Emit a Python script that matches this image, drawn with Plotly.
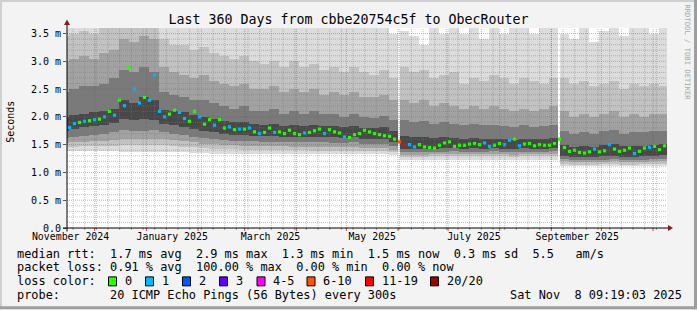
import pandas as pd
import plotly.graph_objects as go

# ------------------------------------------------------------------ data
X_START = "2024-11-14 09:00"
X_END = "2025-11-09 09:00"
Y_TOP = 3.6  # ms

# median rtt (ms), one value per 3 days, and lost pings (out of 20)
median_time = pd.date_range("2024-11-15 21:00", periods=120, freq="3D")
median_ms = [
    1.81, 1.88, 1.90, 1.92, 1.93, 1.95, 1.96, 2.00, 2.10, 2.03,
    2.30, 2.20, 2.90, 2.50, 2.25, 2.35, 2.30, 2.75, 2.10, 2.00,
    2.05, 2.12, 2.08, 1.97, 1.92, 2.10, 2.00, 1.87, 1.95, 1.85,
    1.95, 1.80, 1.82, 1.77, 1.78, 1.78, 1.80, 1.73, 1.70, 1.72,
    1.80, 1.72, 1.73, 1.70, 1.76, 1.70, 1.68, 1.71, 1.72, 1.75,
    1.78, 1.70, 1.77, 1.73, 1.71, 1.64, 1.63, 1.68, 1.70, 1.76,
    1.73, 1.70, 1.68, 1.66, 1.65, 1.60, 1.55, 1.50, 1.50, 1.46,
    1.50, 1.46, 1.45, 1.44, 1.49, 1.53, 1.55, 1.47, 1.49, 1.49,
    1.51, 1.52, 1.50, 1.53, 1.47, 1.49, 1.52, 1.50, 1.58, 1.60,
    1.48, 1.51, 1.52, 1.48, 1.50, 1.49, 1.49, 1.52, 1.60, 1.45,
    1.38, 1.40, 1.36, 1.35, 1.37, 1.42, 1.37, 1.39, 1.50, 1.42,
    1.38, 1.40, 1.44, 1.34, 1.38, 1.44, 1.45, 1.47, 1.41, 1.48,
]
median_loss = [
    1, 1, 0, 1, 0, 1, 0, 1, 0, 1,
    0, 1, 0, 1, 1, 0, 1, 1, 1, 1,
    0, 0, 1, 1, 0, 0, 1, 0, 0, 1,
    0, 0, 1, 0, 1, 0, 1, 0, 1, 0,
    0, 1, 0, 0, 0, 0, 0, 1, 0, 0,
    0, 1, 0, 0, 0, 1, 0, 0, 0, 0,
    0, 0, 0, 0, 0, 0, 8, 12, 1, 1,
    0, 0, 0, 0, 0, 0, 0, 0, 0, 0,
    0, 0, 0, 1, 1, 0, 0, 1, 1, 0,
    1, 0, 0, 0, 0, 0, 0, 0, 0, 0,
    0, 0, 0, 0, 0, 1, 0, 0, 1, 0,
    0, 0, 0, 1, 0, 0, 1, 0, 0, 0,
]

# smoke: ping distribution per 6 days (band k spans lo_k .. hi_k, 1 = outermost)
smoke_time = pd.date_range("2024-11-12 13:48", periods=61, freq="6D")
smoke_hi1 = [3.8] * 10 + [3.8] * 23 + [3.5] + [
    3.55, 3.45, 3.3, 3.6, 3.5, 3.7, 3.5, 3.6, 3.4, 3.7, 3.5, 3.6, 3.65, 3.5, 3.6, 3.7,
    3.5, 3.4, 3.6, 3.35, 3.55, 3.6, 3.45, 3.6, 3.65, 3.5, 3.7]
smoke_hi2 = [
    3.45, 3.5, 3.55, 3.5, 3.6, 3.7, 3.8, 3.8, 3.8, 3.8,
    3.4, 3.3, 3.3, 3.2, 3.25, 3.15, 3.1, 3.05, 3.1, 3.0, 2.95, 3.0, 2.9, 3.0, 2.9, 2.95,
    2.85, 2.9, 2.8, 2.9, 2.8, 2.75, 2.85, 2.7,
    2.9, 2.8, 2.85, 2.7, 2.75, 2.8, 2.6, 2.7, 2.65, 2.75, 2.7, 2.6, 2.7, 2.65, 2.6, 2.7,
    2.7, 2.6, 2.65, 2.55, 2.6, 2.65, 2.5, 2.6, 2.55, 2.6, 2.55]
smoke_hi3 = [
    3.0, 3.05, 3.1, 3.05, 3.15, 3.2, 3.4, 3.35, 3.45, 3.4,
    2.9, 2.8, 2.75, 2.7, 2.75, 2.65, 2.6, 2.55, 2.6, 2.5, 2.5, 2.55, 2.45, 2.5, 2.45, 2.5,
    2.4, 2.45, 2.4, 2.45, 2.35, 2.35, 2.4, 2.3,
    2.3, 2.25, 2.3, 2.2, 2.25, 2.2, 2.15, 2.2, 2.15, 2.2, 2.15, 2.1, 2.15, 2.1, 2.15, 2.2,
    2.1, 2.0, 2.05, 2.0, 2.05, 2.1, 2.0, 2.05, 2.0, 2.05, 2.05]
smoke_hi4 = [
    2.45, 2.5, 2.55, 2.55, 2.6, 2.7, 2.85, 2.8, 2.9, 2.8,
    2.45, 2.4, 2.35, 2.3, 2.3, 2.25, 2.2, 2.15, 2.2, 2.1, 2.1, 2.15, 2.05, 2.1, 2.05, 2.1,
    2.05, 2.05, 2.0, 2.05, 2.0, 1.98, 2.02, 1.95,
    1.95, 1.9, 1.92, 1.88, 1.9, 1.88, 1.85, 1.88, 1.85, 1.86, 1.84, 1.82, 1.85, 1.82, 1.84, 1.86,
    1.75, 1.7, 1.72, 1.7, 1.74, 1.76, 1.7, 1.72, 1.72, 1.74, 1.75]
smoke_hi5 = [
    2.0, 2.04, 2.06, 2.08, 2.1, 2.15, 2.3, 2.25, 2.35, 2.3,
    2.12, 2.1, 2.08, 2.03, 2.0, 1.96, 1.93, 1.9, 1.91, 1.88, 1.86, 1.88, 1.84, 1.86, 1.84, 1.86,
    1.83, 1.83, 1.82, 1.84, 1.8, 1.8, 1.82, 1.74,
    1.66, 1.63, 1.64, 1.62, 1.63, 1.62, 1.61, 1.62, 1.6, 1.61, 1.6, 1.59, 1.61, 1.6, 1.61, 1.62,
    1.5, 1.46, 1.48, 1.46, 1.5, 1.51, 1.47, 1.48, 1.48, 1.5, 1.52]
smoke_lo5 = [
    1.74, 1.78, 1.82, 1.84, 1.86, 1.89, 1.97, 1.94, 1.97, 1.95,
    1.88, 1.85, 1.82, 1.78, 1.74, 1.72, 1.7, 1.68, 1.67, 1.66, 1.65, 1.65, 1.64, 1.64, 1.64, 1.64,
    1.63, 1.63, 1.62, 1.63, 1.6, 1.6, 1.6, 1.55,
    1.42, 1.42, 1.43, 1.43, 1.44, 1.44, 1.43, 1.44, 1.43, 1.44, 1.43, 1.43, 1.44, 1.43, 1.43, 1.44,
    1.3, 1.28, 1.28, 1.28, 1.29, 1.3, 1.28, 1.28, 1.29, 1.3, 1.31]
smoke_lo4 = [
    1.62, 1.64, 1.66, 1.68, 1.7, 1.72, 1.76, 1.74, 1.75, 1.76,
    1.72, 1.7, 1.67, 1.64, 1.62, 1.6, 1.58, 1.57, 1.56, 1.56, 1.55, 1.55, 1.55, 1.54, 1.54, 1.54,
    1.54, 1.53, 1.53, 1.54, 1.51, 1.51, 1.51, 1.47,
    1.36, 1.36, 1.37, 1.37, 1.37, 1.38, 1.37, 1.37, 1.37, 1.38, 1.37, 1.37, 1.37, 1.37, 1.37, 1.38,
    1.24, 1.22, 1.22, 1.22, 1.23, 1.24, 1.22, 1.22, 1.23, 1.24, 1.25]
smoke_lo3 = [
    1.53, 1.54, 1.55, 1.56, 1.57, 1.58, 1.6, 1.6, 1.61, 1.61,
    1.6, 1.58, 1.56, 1.54, 1.52, 1.51, 1.5, 1.49, 1.48, 1.48, 1.47, 1.47, 1.47, 1.46, 1.46, 1.46,
    1.46, 1.45, 1.45, 1.46, 1.44, 1.44, 1.44, 1.41,
    1.32, 1.32, 1.32, 1.33, 1.33, 1.33, 1.33, 1.33, 1.33, 1.33, 1.33, 1.32, 1.33, 1.33, 1.33, 1.33,
    1.2, 1.18, 1.18, 1.18, 1.19, 1.2, 1.18, 1.18, 1.19, 1.2, 1.2]
smoke_lo2 = [
    1.46, 1.46, 1.47, 1.47, 1.48, 1.48, 1.5, 1.5, 1.5, 1.5,
    1.49, 1.47, 1.46, 1.45, 1.44, 1.43, 1.42, 1.42, 1.41, 1.41, 1.4, 1.4, 1.4, 1.4, 1.4, 1.39,
    1.39, 1.39, 1.39, 1.39, 1.38, 1.38, 1.38, 1.37,
    1.28, 1.28, 1.28, 1.29, 1.29, 1.29, 1.29, 1.29, 1.29, 1.29, 1.29, 1.28, 1.29, 1.29, 1.29, 1.29,
    1.16, 1.14, 1.14, 1.14, 1.15, 1.16, 1.14, 1.14, 1.15, 1.16, 1.16]
smoke_lo1 = [
    1.39, 1.39, 1.39, 1.39, 1.38, 1.38, 1.37, 1.37, 1.36, 1.36,
    1.37, 1.36, 1.36, 1.35, 1.35, 1.34, 1.34, 1.34, 1.33, 1.33, 1.33, 1.33, 1.33, 1.33, 1.33, 1.33,
    1.33, 1.33, 1.33, 1.33, 1.33, 1.33, 1.33, 1.32] + [1.23] * 16 + [1.12] * 11

# periods with 100 % loss (no data)
outage_from = ["2025-06-01 04:00", "2025-09-05 04:00"]
outage_to = ["2025-06-02 08:00", "2025-09-06 03:00"]

month_labels = ["November 2024", "January 2025", "March 2025",
                "May 2025", "July 2025", "September 2025"]
month_label_at = ["2024-11-16 12:00", "2025-01-16 12:00", "2025-03-16 12:00",
                  "2025-05-16 12:00", "2025-07-16 12:00", "2025-09-16 12:00"]
y_ticks = [0.0, 0.5, 1.0, 1.5, 2.0, 2.5, 3.0, 3.5]
y_tick_text = ["0.0", "0.5 m", "1.0 m", "1.5 m", "2.0 m", "2.5 m", "3.0 m", "3.5 m"]

loss_labels = ["0", "1", "2", "3", "4-5", "6-10", "11-19", "20/20"]
loss_colors = ["#26ff00", "#00b8ff", "#0059ff", "#5e00ff",
               "#ff00ff", "#ff5500", "#ff0000", "#a10000"]
loss_upper = [0, 1, 2, 3, 5, 10, 19, 20]

title_text = "Last 360 Days from cbbe20754c5f to ObecRouter"
legend_line1 = "median rtt:  1.7 ms avg  2.9 ms max  1.3 ms min  1.5 ms now  0.3 ms sd  5.5   am/s"
legend_line2 = "packet loss: 0.91 % avg  100.00 % max  0.00 % min  0.00 % now"
legend_line3 = "loss color:"
legend_line4 = "probe:       20 ICMP Echo Pings (56 Bytes) every 300s"
legend_date = "Sat Nov  8 09:19:03 2025"

# ------------------------------------------------------------------ geometry / style
W, H = 697, 310
PL, PR, PT, PB = 67, 667, 28, 228.5
MONO = "DejaVu Sans Mono"
BAND_COLORS = ["#DCDCDC", "#C2C2C2", "#A2A2A2", "#7A7A7A", "#484848"]
DAY_MS = 24 * 3600 * 1000


def px(x):
    return (x - PL) / (PR - PL)


def py(y):
    return (PB - y) / (PB - PT)


def nb(s):
    return s.replace(" ", "\u00a0")


def loss_color(n):
    for up, c in zip(loss_upper, loss_colors):
        if n <= up:
            return c
    return loss_colors[-1]


fig = go.Figure()

bands = [(smoke_lo1, smoke_hi1), (smoke_lo2, smoke_hi2), (smoke_lo3, smoke_hi3),
         (smoke_lo4, smoke_hi4), (smoke_lo5, smoke_hi5)]
for (lo, hi), col in zip(bands, BAND_COLORS):
    fig.add_trace(go.Bar(
        x=smoke_time, y=[h - l for l, h in zip(lo, hi)], base=lo,
        width=6 * DAY_MS * 1.02, marker=dict(color=col, line=dict(width=0)),
        hoverinfo="skip", showlegend=False))

o_from = pd.to_datetime(outage_from)
o_to = pd.to_datetime(outage_to)
fig.add_trace(go.Bar(
    x=[a + (b - a) / 2 for a, b in zip(o_from, o_to)],
    y=[Y_TOP] * len(o_from), base=[0] * len(o_from),
    width=[(b - a).total_seconds() * 1000 for a, b in zip(o_from, o_to)],
    marker=dict(color="#FFFFFF", line=dict(width=0)),
    hoverinfo="skip", showlegend=False))

fig.add_trace(go.Scatter(
    x=median_time, y=median_ms, mode="markers",
    marker=dict(symbol="square", size=3.2, color=[loss_color(n) for n in median_loss],
                line=dict(width=0)),
    hoverinfo="skip", showlegend=False))

shapes = []
GRID = "rgba(120,120,120,0.45)"
MGRID = "rgba(230,40,40,0.45)"
for d in pd.date_range("2024-11-18", "2025-11-08", freq="7D"):
    shapes.append(dict(type="line", xref="x", yref="paper", x0=d, x1=d, y0=0, y1=1,
                       line=dict(color=GRID, width=1, dash="1px,1px"), layer="above"))
    shapes.append(dict(type="line", xref="x", yref="paper", x0=d, x1=d, y0=0, y1=-2 / (PB - PT),
                       line=dict(color="#999999", width=1), layer="above"))
for d in pd.date_range("2024-12-01", "2025-11-01", freq="MS"):
    shapes.append(dict(type="line", xref="x", yref="paper", x0=d, x1=d, y0=0, y1=1,
                       line=dict(color=MGRID, width=1, dash="1px,1px"), layer="above"))
    shapes.append(dict(type="line", xref="x", yref="paper", x0=d, x1=d, y0=0, y1=-3 / (PB - PT),
                       line=dict(color="#D04040", width=1), layer="above"))
for k in range(1, 36):
    v = k / 10
    major = k % 5 == 0
    shapes.append(dict(type="line", xref="paper", yref="y", x0=0, x1=1, y0=v, y1=v,
                       line=dict(color=MGRID if major else GRID, width=1, dash="1px,1px"),
                       layer="above"))

# axis lines with arrows
shapes.append(dict(type="line", xref="paper", yref="paper", x0=px(63), x1=px(670),
                   y0=py(PB), y1=py(PB), line=dict(color="#000000", width=1), layer="above"))
shapes.append(dict(type="line", xref="paper", yref="paper", x0=0, x1=0,
                   y0=py(232), y1=py(22), line=dict(color="#000000", width=1), layer="above"))
shapes.append(dict(type="path", xref="paper", yref="paper",
                   path=f"M {px(668)} {py(PB - 3)} L {px(673)} {py(PB)} L {px(668)} {py(PB + 3)} Z",
                   fillcolor="#8B1A1A", line=dict(width=0), layer="above"))
shapes.append(dict(type="path", xref="paper", yref="paper",
                   path=f"M {px(64)} {py(25)} L {px(PL)} {py(19.5)} L {px(70)} {py(25)} Z",
                   fillcolor="#8B1A1A", line=dict(width=0), layer="above"))

# outer 3d frame
shapes += [
    dict(type="rect", xref="paper", yref="paper", x0=px(0), x1=px(W), y0=py(0), y1=py(2),
         fillcolor="#CFCFCF", line=dict(width=0), layer="above"),
    dict(type="rect", xref="paper", yref="paper", x0=px(0), x1=px(2), y0=py(0), y1=py(H),
         fillcolor="#CFCFCF", line=dict(width=0), layer="above"),
    dict(type="rect", xref="paper", yref="paper", x0=px(W - 3), x1=px(W), y0=py(0), y1=py(H),
         fillcolor="#9E9E9E", line=dict(width=0), layer="above"),
    dict(type="rect", xref="paper", yref="paper", x0=px(0), x1=px(W), y0=py(H - 3), y1=py(H),
         fillcolor="#9E9E9E", line=dict(width=0), layer="above"),
]

# legend colour boxes
box_x = [108.5, 145.5, 182.5, 219.5, 257, 307, 365.5, 430.5]
annotations = []
for bx, lab, col in zip(box_x, loss_labels, loss_colors):
    shapes.append(dict(type="rect", xref="paper", yref="paper", x0=px(bx), x1=px(bx + 8),
                       y0=py(286.5), y1=py(277.5), fillcolor=col,
                       line=dict(color="#000000", width=1), layer="above"))
    annotations.append(dict(xref="paper", yref="paper", x=px(bx + 14), y=py(282),
                            text=nb(lab), showarrow=False, xanchor="left", yanchor="middle",
                            font=dict(family=MONO, size=11.9, color="#000")))

LF = dict(family=MONO, size=11.9, color="#000")
for txt, yy in [(legend_line1, 254.5), (legend_line2, 268), (legend_line3, 282), (legend_line4, 295.5)]:
    annotations.append(dict(xref="paper", yref="paper", x=px(15), y=py(yy), text=nb(txt),
                            showarrow=False, xanchor="left", yanchor="middle", font=LF))
annotations.append(dict(xref="paper", yref="paper", x=px(684), y=py(295.5), text=nb(legend_date),
                        showarrow=False, xanchor="right", yanchor="middle", font=LF))
annotations.append(dict(xref="paper", yref="paper", x=px(10.5), y=py(122.5), text="Seconds",
                        textangle=-90, showarrow=False, xanchor="center", yanchor="middle",
                        font=dict(family=MONO, size=10, color="#000")))
annotations.append(dict(xref="paper", yref="paper", x=px(687.5), y=py(52), text=nb("RRDTOOL / TOBI OETIKER"),
                        textangle=90, showarrow=False, xanchor="center", yanchor="middle",
                        font=dict(family=MONO, size=7.2, color="#A8A8A8")))

fig.update_layout(
    width=W, height=H,
    margin=dict(l=PL, r=W - PR, t=PT, b=H - PB, pad=0),
    paper_bgcolor="#F3F3F3", plot_bgcolor="#FFFFFF",
    barmode="overlay", bargap=0, showlegend=False,
    font=dict(family=MONO, size=10, color="#000"),
    title=dict(text=title_text, x=0.5, xanchor="center", xref="container",
               y=1 - 19 / H, yanchor="middle", yref="container",
               font=dict(family=MONO, size=13.3, color="#000")),
    xaxis=dict(type="date", range=[X_START, X_END], tickvals=month_label_at, ticktext=month_labels,
               ticks="", showgrid=False, zeroline=False, showline=False, ticklabelstandoff=1,
               tickfont=dict(family=MONO, size=9.9), fixedrange=True),
    yaxis=dict(range=[0, Y_TOP], tickvals=y_ticks, ticktext=y_tick_text, ticks="outside",
               ticklen=3, tickcolor="#555555", showgrid=False, zeroline=False, showline=False,
               tickfont=dict(family=MONO, size=10), fixedrange=True),
    shapes=shapes, annotations=annotations,
)

fig.write_html("out.html", config={"displayModeBar": False})
